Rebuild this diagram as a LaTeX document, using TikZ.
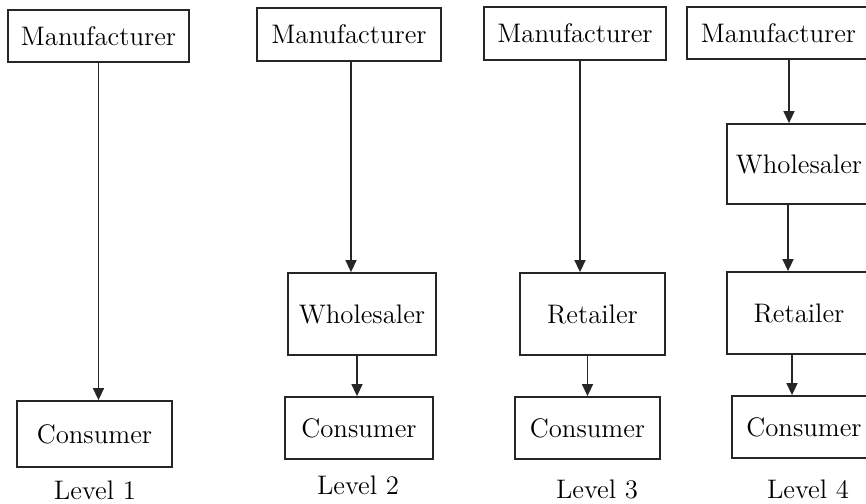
\documentclass[tikz,border=0pt]{standalone}
\usetikzlibrary{arrows.meta}
\begin{document}
\begin{tikzpicture}[x=0.5pt,y=-0.5pt,
  box/.style={draw=black!85, line width=0.9pt, inner sep=0pt, font=\fontsize{13.4}{16}\selectfont},
  lvl/.style={inner sep=0pt, font=\fontsize{13.4}{16}\selectfont},
  arr/.style={draw=black!85, line width=0.75pt, -{Triangle[length=6pt,width=5.5pt]}}]
\useasboundingbox (0,0) rectangle (866,503);
\begin{scope}
\clip (0,0) rectangle (866,503);
% Level 1
\node[box, minimum width=90.5pt, minimum height=26pt] (m1) at (98.5,36) {Manufacturer};
\node[box, minimum width=77.5pt, minimum height=33pt] (c1) at (94.5,434) {Consumer};
\node[lvl] (l1) at (95,490) {Level 1};
\draw[arr] (m1.south) -- (m1.south |- c1.north);
% Level 2
\node[box, minimum width=92pt, minimum height=26.5pt] (m2) at (349,34.5) {Manufacturer};
\node[box, minimum width=74pt, minimum height=41pt] (w2) at (362,314) {Wholesaler};
\node[box, minimum width=74pt, minimum height=31pt] (c2) at (359,428) {Consumer};
\node[lvl] (l2) at (358,485) {Level 2};
\draw[arr] ([xshift=1pt]m2.south) -- ([xshift=1pt]m2.south |- w2.north);
\draw[arr] ([xshift=-1pt]w2.south -| c2.north) -- ([xshift=-1pt]c2.north);
% Level 3
\node[box, minimum width=91pt, minimum height=26.5pt] (m3) at (575,33.5) {Manufacturer};
\node[box, minimum width=72.5pt, minimum height=41pt] (r3) at (592.5,314) {Retailer};
\node[box, minimum width=72.5pt, minimum height=31pt] (c3) at (587.5,428) {Consumer};
\node[lvl] (l3) at (597,489) {Level 3};
\draw[arr] ([xshift=2.5pt]m3.south) -- ([xshift=2.5pt]m3.south |- r3.north);
\draw[arr] (r3.south -| c3.north) -- (c3.north);
% Level 4
\node[box, minimum width=91.5pt, minimum height=26pt] (m4) at (778.5,33) {Manufacturer};
\node[box, minimum width=72pt, minimum height=40pt] (w4) at (799,164) {Wholesaler};
\node[box, minimum width=72pt, minimum height=41pt] (r4) at (799,313) {Retailer};
\node[box, minimum width=72pt, minimum height=31pt] (c4) at (804,427) {Consumer};
\node[lvl] (l4) at (808,489) {Level 4};
\draw[arr] ([xshift=5.25pt]m4.south) -- ([xshift=5.25pt]m4.south |- w4.north);
\draw[arr] ([xshift=-5.5pt]w4.south) -- ([xshift=-5.5pt]w4.south |- r4.north);
\draw[arr] ([xshift=-3.5pt]r4.south) -- ([xshift=-3.5pt]r4.south |- c4.north);
\end{scope}
\end{tikzpicture}
\end{document}
